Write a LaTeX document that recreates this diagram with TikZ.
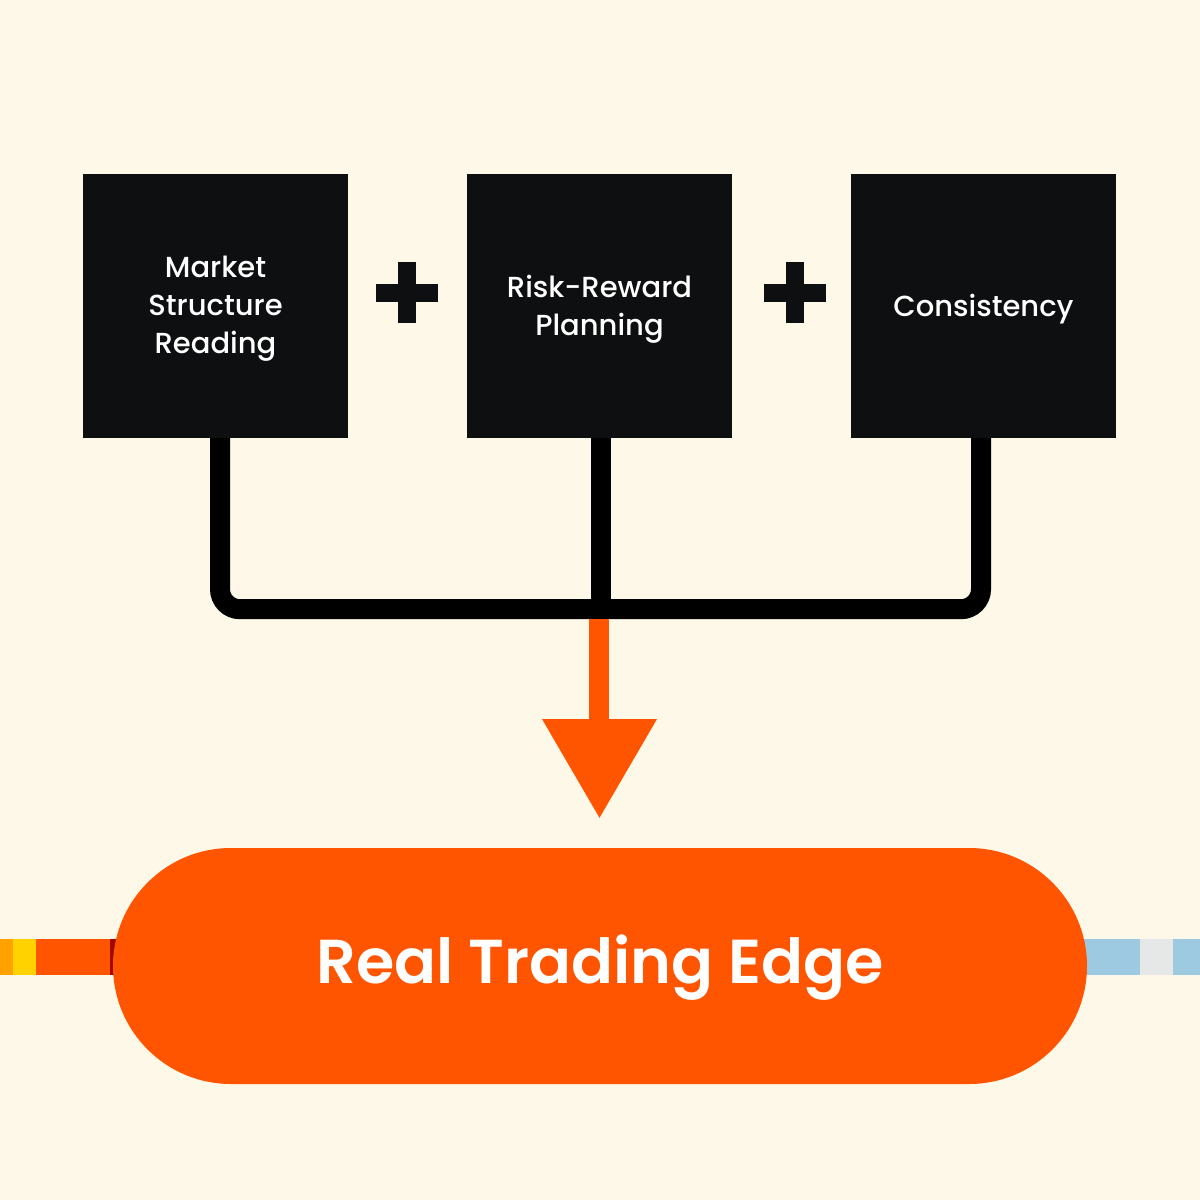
\documentclass[tikz,border=0pt]{standalone}
\usepackage{fontspec}
\setmainfont{Poppins}
\newfontfamily\popmed{Poppins Medium}
\newfontfamily\popsemi{Poppins SemiBold}
\usetikzlibrary{calc}
\definecolor{bgc}{HTML}{FEF8E8}
\definecolor{boxc}{HTML}{0E0F10}
\definecolor{orng}{HTML}{FF5500}
\definecolor{ambr}{HTML}{FFA200}
\definecolor{yell}{HTML}{FFD200}
\definecolor{dred}{HTML}{A00800}
\definecolor{lblue}{HTML}{9DCAE0}
\definecolor{lgrey}{HTML}{E5E8E6}
\tikzset{
  stepbox/.style={fill=boxc, draw=none, minimum width=265pt, minimum height=264pt, inner sep=0pt,
    text=white, align=center, font=\popmed\fontsize{29}{38}\selectfont},
  steptext/.style={text=white, align=center, font=\popmed\fontsize{29}{38}\selectfont, inner sep=0pt},
  plusbar/.style={fill=boxc, draw=none},
  joinline/.style={draw=black, line width=20pt, rounded corners=20pt},
}
\begin{document}
\begin{tikzpicture}[x=1pt,y=-1pt]
\useasboundingbox (0,0) rectangle (1200,1200);
\fill[bgc] (0,0) rectangle (1200,1200);
% side bars
\fill[ambr] (0,939) rectangle (13,975);
\fill[yell] (13,939) rectangle (36,975);
\fill[orng] (36,939) rectangle (110,975);
\fill[dred] (110,939) rectangle (130,975);
\fill[lblue] (1070,939) rectangle (1140,975);
\fill[lgrey] (1140,939) rectangle (1173,975);
\fill[lblue] (1173,939) rectangle (1200,975);
% boxes
\node[stepbox] (b1) at (215.5,306) {};
\node[stepbox] (b2) at (599.5,306) {};
\node[stepbox] (b3) at (983.5,306) {};
\node[steptext] (t1) at ($(b1.center)+(0,3)$) {Market\\Structure\\Reading};
\node[steptext] (t2) at ($(b2.center)+(0,3)$) {Risk-Reward\\Planning};
\node[steptext] (t3) at ($(b3.center)+(0,3)$) {Consistency};
% plus signs
\foreach \cx/\nm in {407/p1,795/p2}{
  \fill[plusbar] (\cx-9,262) rectangle (\cx+9,323);
  \fill[plusbar] (\cx-31,283.5) rectangle (\cx+31,301.5);
}
% connectors
\coordinate (j1) at ($(b1.south)+(4.5,0)$);
\coordinate (j2) at ($(b2.south)+(1.5,0)$);
\coordinate (j3) at ($(b3.south)+(-2.5,0)$);
\coordinate (jm) at ($(j2)+(0,171)$);
\draw[joinline] (j1) -- ($(j1)+(0,171)$) -- ($(j3)+(0,171)$) -- (j3);
\draw[line width=20pt] (j2) -- (jm);
% result pill
\node[fill=orng, draw=none, minimum width=974pt, minimum height=236pt, rounded corners=118pt, inner sep=0pt] (edge) at (600,966) {};
\node[anchor=base, text=white, font=\popsemi\fontsize{62}{62}\selectfont, inner sep=0pt] (title) at (600,983) {Real Trading Edge};
% arrow
\fill[orng] (589,619) rectangle (609,720);
\coordinate (tip) at ($(edge.north)+(-0.5,-30)$);
\fill[orng] (542,719) -- (657,719) -- (tip) -- cycle;
\end{tikzpicture}
\end{document}
